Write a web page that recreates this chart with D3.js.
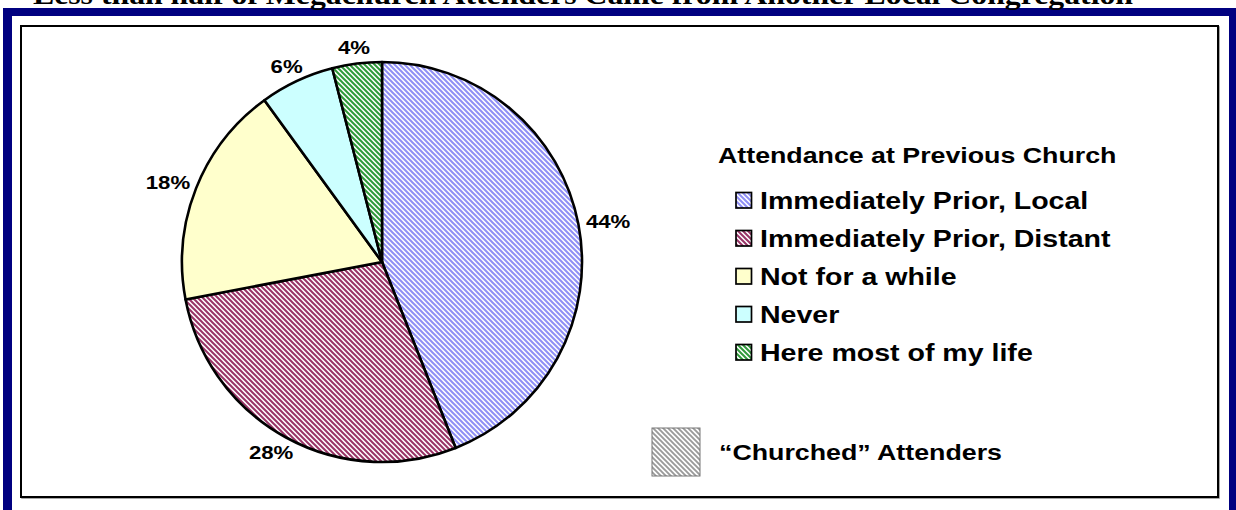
<!DOCTYPE html>
<html><head><meta charset="utf-8">
<script src="https://cdn.jsdelivr.net/npm/d3@7"></script>
<style>html,body{margin:0;padding:0;background:#fff;overflow:hidden}</style>
</head><body>
<svg id="chart" width="1236" height="510"></svg>
<script>
const title = "Less than half of Megachurch Attenders Came from Another Local Congregation";
const legendTitle = "Attendance at Previous Church";
const categories = ["Immediately Prior, Local", "Immediately Prior, Distant", "Not for a while", "Never", "Here most of my life"];
const values = [44, 28, 18, 6, 4];
const valueLabels = ["44%", "28%", "18%", "6%", "4%"];
const extraLegend = "\u201CChurched\u201D Attenders";

const W = 1236, H = 510;
const SX = 1.2; // horizontal stretch of the original text
const svg = d3.select("#chart");
const defs = svg.append("defs");

const fills = [
  {type:"hatch", color:"#8f8ff5"},
  {type:"hatch", color:"#993366"},
  {type:"solid", color:"#ffffcc"},
  {type:"solid", color:"#ccffff"},
  {type:"hatch", color:"#2f9a3a"}
];
function hatch(id, color, size, sw) {
  const p = defs.append("pattern").attr("id", id).attr("patternUnits", "userSpaceOnUse")
    .attr("width", size).attr("height", size);
  p.append("rect").attr("width", size).attr("height", size).attr("fill", "#fff");
  p.append("path").attr("d", `M0,0L${size},${size}M${-size/2},${size/2}L${size/2},${size*1.5}M${size/2},${-size/2}L${size*1.5},${size/2}`)
    .attr("stroke", color).attr("stroke-width", sw);
  return `url(#${id})`;
}
const fillOf = fills.map((f, i) => f.type === "hatch" ? hatch("h" + i, f.color, 5, 2) : f.color);
const grayFill = hatch("hg", "#9a9a9a", 5, 1.9);

// frame
svg.append("rect").attr("x", 3).attr("y", 8).attr("width", W).attr("height", H + 20).attr("fill", "#000080");
svg.append("rect").attr("x", 12).attr("y", 16).attr("width", 1217).attr("height", H + 20).attr("fill", "#fff");
svg.append("rect").attr("x", 22).attr("y", 27).attr("width", 1197).attr("height", 471).attr("fill", "none").attr("stroke", "#8a8a8a").attr("stroke-width", 1.5);
svg.append("rect").attr("x", 21).attr("y", 26).attr("width", 1197).attr("height", 471).attr("fill", "#fff").attr("stroke", "#000").attr("stroke-width", 2);

// title (cut at top, as in the original)
svg.append("text").attr("x", 33).attr("y", 3.5)
  .attr("font-family", "Liberation Serif, Times New Roman, serif").attr("font-weight", "bold")
  .attr("font-size", 27).attr("textLength", 1100).attr("lengthAdjust", "spacingAndGlyphs")
  .attr("fill", "#000").text(title);

// pie
const cx = 382, cy = 262, R = 200;
const pie = d3.pie().sort(null).value(d => d)(values);
const arc = d3.arc().innerRadius(0).outerRadius(R);
const g = svg.append("g").attr("transform", `translate(${cx},${cy})`);
g.selectAll("path.slice").data(pie).join("path").attr("class", "slice")
  .attr("d", arc).attr("fill", (d, i) => fillOf[i])
  .attr("stroke", "#000").attr("stroke-width", 2.6).attr("stroke-linejoin", "round");

// labels: box placed just outside the rim, along the slice bisector
const gap = 8, LFS = 18.5;
g.selectAll("text.lbl").data(pie).join("text").attr("class", "lbl")
  .attr("text-anchor", "middle").attr("dy", "0.36em")
  .attr("font-family", "Liberation Sans, Arial, sans-serif").attr("font-weight", "bold").attr("font-size", LFS)
  .text((d, i) => valueLabels[i])
  .attr("transform", function(d) {
    const a = (d.startAngle + d.endAngle) / 2;
    const s = Math.sin(a), c = -Math.cos(a);
    const w = this.getComputedTextLength() * SX, h = LFS * 0.95;
    const x = (R + gap) * s + s * w / 2;
    const y = (R + gap) * c + c * h / 2;
    return `translate(${x},${y}) scale(${SX},1)`;
  });

// legend
const lg = svg.append("g");
lg.append("text").attr("transform", `translate(718,163) scale(${SX},1)`)
  .attr("font-family", "Liberation Sans, Arial, sans-serif").attr("font-weight", "bold").attr("font-size", 22.3)
  .text(legendTitle);
const rowY = d3.scalePoint().domain(categories).range([200, 352]);
const rows = lg.selectAll("g.row").data(categories).join("g").attr("class", "row")
  .attr("transform", d => `translate(0,${rowY(d)})`);
rows.append("rect").attr("x", 736).attr("y", -7.5).attr("width", 15.5).attr("height", 15.5)
  .attr("fill", (d, i) => fillOf[i]).attr("stroke", "#000").attr("stroke-width", 1.7);
rows.append("text").attr("transform", `translate(760,8.5) scale(${SX},1)`)
  .attr("font-family", "Liberation Sans, Arial, sans-serif").attr("font-weight", "bold").attr("font-size", 23.8)
  .text(d => d);

lg.append("rect").attr("x", 652).attr("y", 428).attr("width", 48).attr("height", 48)
  .attr("fill", grayFill).attr("stroke", "#777").attr("stroke-width", 1);
lg.append("text").attr("transform", `translate(719,460) scale(${SX},1)`)
  .attr("font-family", "Liberation Sans, Arial, sans-serif").attr("font-weight", "bold").attr("font-size", 22.3)
  .text(extraLegend);
</script>
</body></html>
